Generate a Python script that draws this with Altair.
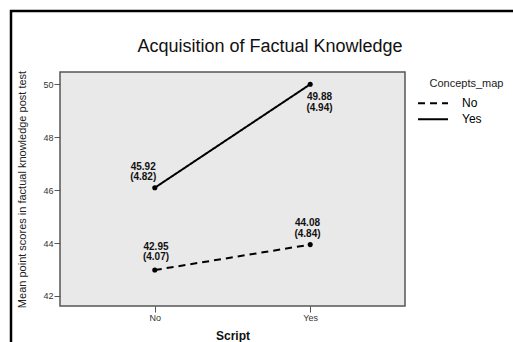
import altair as alt
import pandas as pd

# ---- data ----
script_levels = ["No", "Yes"]
concept_levels = ["No", "Yes"]
# plotted mean positions (as drawn)
means_no_map = [42.98, 43.94]
means_yes_map = [46.09, 50.00]
# printed labels
label_means_no_map = ["42.95", "44.08"]
label_sd_no_map = ["4.07", "4.84"]
label_means_yes_map = ["45.92", "49.88"]
label_sd_yes_map = ["4.82", "4.94"]
y_ticks = [42, 44, 46, 48, 50]
legend_title = "Concepts_map"
chart_title = "Acquisition of Factual Knowledge"

rows = []
for concept, ms, lm, ls in [
    ("No", means_no_map, label_means_no_map, label_sd_no_map),
    ("Yes", means_yes_map, label_means_yes_map, label_sd_yes_map),
]:
    for i, s in enumerate(script_levels):
        rows.append({
            "Script": s,
            "Concepts_map": concept,
            "mean": ms[i],
            "label": f"{lm[i]}\n({ls[i]})",
            "key": f"{concept}-{s}",
        })
df = pd.DataFrame(rows)

FONT = "Liberation Sans"

# label offsets (style)
label_offsets = {
    "No-No": (1.2, -20.4),
    "No-Yes": (-2.7, -18.8),
    "Yes-No": (-11.6, -18.1),
    "Yes-Yes": (9.3, 15.9),
}

x_enc = alt.X(
    "Script:N",
    scale=alt.Scale(type="point", domain=script_levels, padding=0.61),
    axis=alt.Axis(
        title="Script", labelAngle=0, titleFontWeight="bold", titleFontSize=12,
        titleY=29, titleBaseline="middle", titleX=172.5, titleColor="#111",
    ),
)
y_enc = alt.Y(
    "mean:Q",
    scale=alt.Scale(domain=[41.62, 50.465], nice=False, zero=False),
    axis=alt.Axis(
        values=y_ticks, title="Mean point scores in factual knowledge post test",
        titleFontSize=11, titleFontWeight="normal", titleColor="#222",
        titleX=-37.5, titleY=117, titleAngle=-90, titleBaseline="middle",
        titleAlign="center",
    ),
)

base = alt.Chart(df)

lines = base.mark_line(color="black", strokeWidth=2).encode(
    x=x_enc,
    y=y_enc,
    strokeDash=alt.StrokeDash(
        "Concepts_map:N",
        scale=alt.Scale(domain=concept_levels, range=[[7, 5], [1, 0]]),
        legend=alt.Legend(
            title=None, orient="none", legendX=357, legendY=23.3,
            symbolType="stroke", symbolSize=900, symbolStrokeWidth=2,
            symbolStrokeColor="black", clipHeight=16, rowPadding=0,
            labelOffset=13, labelFontSize=12, labelColor="black",
            labelFont=FONT, padding=0,
        ),
    ),
    detail="Concepts_map:N",
)

points = base.mark_circle(color="black", size=26, opacity=1).encode(x=x_enc, y=y_enc)

texts = []
for key, (dx, dy) in label_offsets.items():
    texts.append(
        base.transform_filter(alt.datum.key == key).mark_text(
            font=FONT, fontSize=10, fontWeight="bold", color="#111",
            lineBreak="\n", lineHeight=10.7, align="center",
            baseline="alphabetic", dx=dx, dy=dy,
        ).encode(x=x_enc, y=y_enc, text="label:N")
    )

leg_title = alt.Chart(pd.DataFrame({"t": [legend_title]})).mark_text(
    font=FONT, fontSize=11, color="#222", align="center", baseline="middle"
).encode(x=alt.value(406.5), y=alt.value(12), text="t:N")

title_text = alt.Chart(pd.DataFrame({"t": [chart_title]})).mark_text(
    font=FONT, fontSize=18, color="#111", align="center", baseline="alphabetic"
).encode(x=alt.value(210), y=alt.value(-20.3), text="t:N")

frame_df = pd.DataFrame({"k": ["top", "left"]})
frame_top = alt.Chart(frame_df).transform_filter(alt.datum.k == "top").mark_rule(
    color="black", strokeWidth=2.5
).encode(x=alt.value(-50), x2=alt.value(470), y=alt.value(-61))
frame_left = alt.Chart(frame_df).transform_filter(alt.datum.k == "left").mark_rule(
    color="black", strokeWidth=2.5
).encode(x=alt.value(-49), y=alt.value(-62), y2=alt.value(290))

chart = alt.layer(
    lines, points, *texts, leg_title, title_text, frame_top, frame_left
).properties(
    width=345,
    height=234,
    autosize=alt.AutoSizeParams(type="none"),
    padding={"left": 60, "top": 72, "right": 108, "bottom": 36},
    background="white",
).configure_view(
    fill="#e9e9e9", stroke="#555555", strokeWidth=1.5
).configure_axis(
    labelFont=FONT, titleFont=FONT, labelFontSize=9, labelColor="#333",
    tickColor="#555", tickSize=6, labelPadding=1, domain=False, grid=False,
)

chart.save("out.html", embed_options={"renderer": "svg", "actions": False})
